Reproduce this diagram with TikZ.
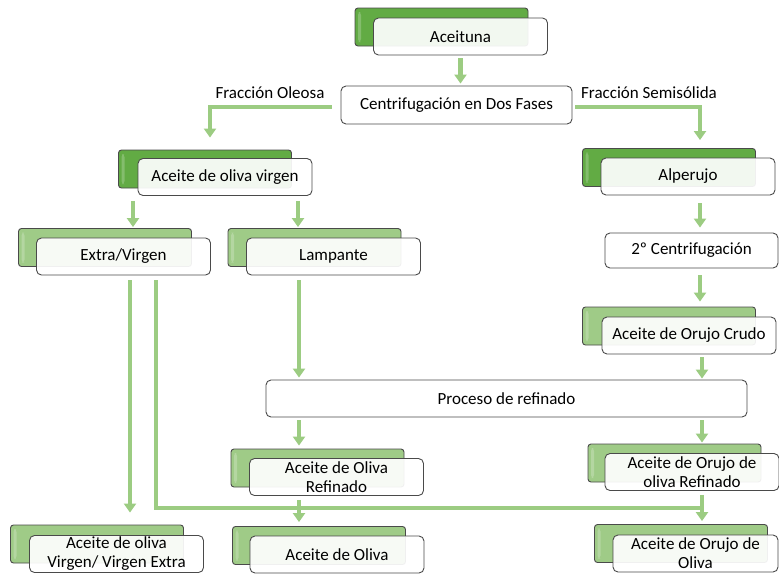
\documentclass[tikz,border=0pt]{standalone}
\usepackage{fontspec}
\setmainfont{Carlito}
\usetikzlibrary{arrows.meta,calc}
\definecolor{linkgreen}{HTML}{9CCC82}
\definecolor{deepgreen}{HTML}{62AB44}
\definecolor{palegreen}{HTML}{9FCB87}
\definecolor{edgegray}{HTML}{4A4A4A}
\newcommand{\boxfont}{\fontsize{17}{19}\selectfont}
\tikzset{
  front/.style={draw=edgegray, fill=white, fill opacity=0.92, text opacity=1,
    rounded corners=5pt, line width=0.9pt, minimum width=174pt,
    minimum height=37pt, inner sep=0pt, align=center, font=\boxfont},
  back/.style={draw=edgegray, rounded corners=3pt, line width=0.9pt,
    minimum width=173pt, minimum height=38pt, inner sep=0pt,
    path picture={\fill[white,opacity=.22]
      ([xshift=3pt,yshift=-4pt]path picture bounding box.north west) rectangle
      ([xshift=6pt,yshift=4pt]path picture bounding box.south west);}},
  backdeep/.style={back, fill=deepgreen},
  backpale/.style={back, fill=palegreen},
  plain/.style={front, fill opacity=1},
  link/.style={draw=linkgreen, line width=4.5pt},
  arr/.style={link, -{Triangle[width=12pt,length=9pt]}},
  tag/.style={font=\boxfont, inner sep=0pt}
}
\begin{document}
\begin{tikzpicture}[x=1pt,y=-1pt]
  \fill[white] (0,0) rectangle (779,574);
  \useasboundingbox (0,0) rectangle (779,574);

  % source and first separation
  \node[backdeep] (aceituna-b) at (441.5,27) {};
  \node[front] (aceituna) at (460.5,36.5) {Aceituna};
  \node[plain, minimum width=231pt, minimum height=38pt] (centrif) at (456.5,105) {Centrifugación en Dos Fases};
  \node[tag] (oleosa) at (270,93) {Fracción Oleosa};
  \node[tag] (semisolida) at (649,93) {Fracción Semisólida};

  % oily fraction branch
  \node[backdeep] (virgen-b) at (205,169) {};
  \node[front] (virgen) at (225,177) {Aceite de oliva virgen};
  \node[backpale] (extra-b) at (105,247.5) {};
  \node[front] (extra) at (123.5,256.5) {Extra/Virgen};
  \node[backpale] (lampante-b) at (314.5,247.5) {};
  \node[front] (lampante) at (333.5,256.5) {Lampante};

  % semisolid fraction branch
  \node[backdeep] (alperujo-b) at (669,167.5) {};
  \node[front] (alperujo) at (688,176.5) {Alperujo};
  \node[plain, minimum width=173pt, minimum height=35pt] (centrif2) at (691.5,250.5) {2º Centrifugación};
  \node[backpale] (crudo-b) at (669,326) {};
  \node[front] (crudo) at (689,335.5) {Aceite de Orujo Crudo};

  % refining
  \node[plain, minimum width=481pt, minimum height=37pt] (refinado) at (506.5,398.5) {Proceso de refinado};
  \node[backpale] (olivaref-b) at (317.5,468) {};
  \node[front] (olivaref) at (336.5,477) {Aceite de Oliva\\Refinado};
  \node[backpale] (orujoref-b) at (674.5,463) {};
  \node[front] (orujoref) at (692,472) {Aceite de Orujo de\\oliva Refinado};

  % final products
  \node[backpale] (vve-b) at (97,544) {};
  \node[front] (vve) at (116.5,554) {Aceite de oliva\\Virgen/ Virgen Extra};
  \node[backpale] (oliva-b) at (319,545.5) {};
  \node[front] (oliva) at (337,554.5) {Aceite de Oliva};
  \node[backpale] (orujo-b) at (681,543.5) {};
  \node[front, minimum width=165pt] (orujo) at (695.5,553.5) {Aceite de Orujo de\\Oliva};

  \coordinate (merge) at (702,508);

  % connectors
  \draw[arr] ($(aceituna.south)+(0,3)$) -- ($(aceituna.south |- centrif.north)+(0,-2)$);
  \draw[arr] ($(centrif.west)+(-9,2)$) -| ($(virgen-b.north)+(5,-12)$);
  \draw[arr] ($(centrif.east)+(3,2)$) -| ($(alperujo-b.north)+(31,-8)$);

  \draw[arr] ($(virgen.south)+(-92,5)$) -- ($(extra-b.north)+(28,-1)$);
  \draw[arr] ($(virgen.south)+(73,5)$) -- ($(lampante-b.north)+(-16.5,-1)$);

  \draw[arr] ($(alperujo.south)+(12,8)$) -- ($(centrif2.north)+(8.5,-5)$);
  \draw[arr] ($(centrif2.south)+(8.5,7)$) -- ($(crudo-b.north)+(31,-5)$);

  \draw[arr] ($(lampante.south)+(-34.5,5)$) -- ($(refinado.north)+(-207.5,-2)$);
  \draw[arr] ($(crudo.south)+(13,3)$) -- ($(refinado.north)+(195.5,-1)$);

  \draw[arr] ($(refinado.south)+(-207.5,3)$) -- ($(olivaref-b.north)+(-18.5,-3)$);
  \draw[arr] ($(refinado.south)+(195.5,3)$) -- ($(orujoref-b.north)+(27.5,-1)$);

  \draw[arr] ($(extra.south)+(6.5,5)$) -- ($(vve-b.north)+(33,-12)$);
  \draw[link] ($(extra.south)+(32.5,5)$) |- (merge);
  \draw[arr] ($(orujoref.south)+(10,4)$) -- ($(orujo-b.north)+(21,-3)$);
  \draw[arr] ($(olivaref.south)+(-37.5,4)$) -- ($(oliva-b.north)+(-20,-4)$);
\end{tikzpicture}
\end{document}
